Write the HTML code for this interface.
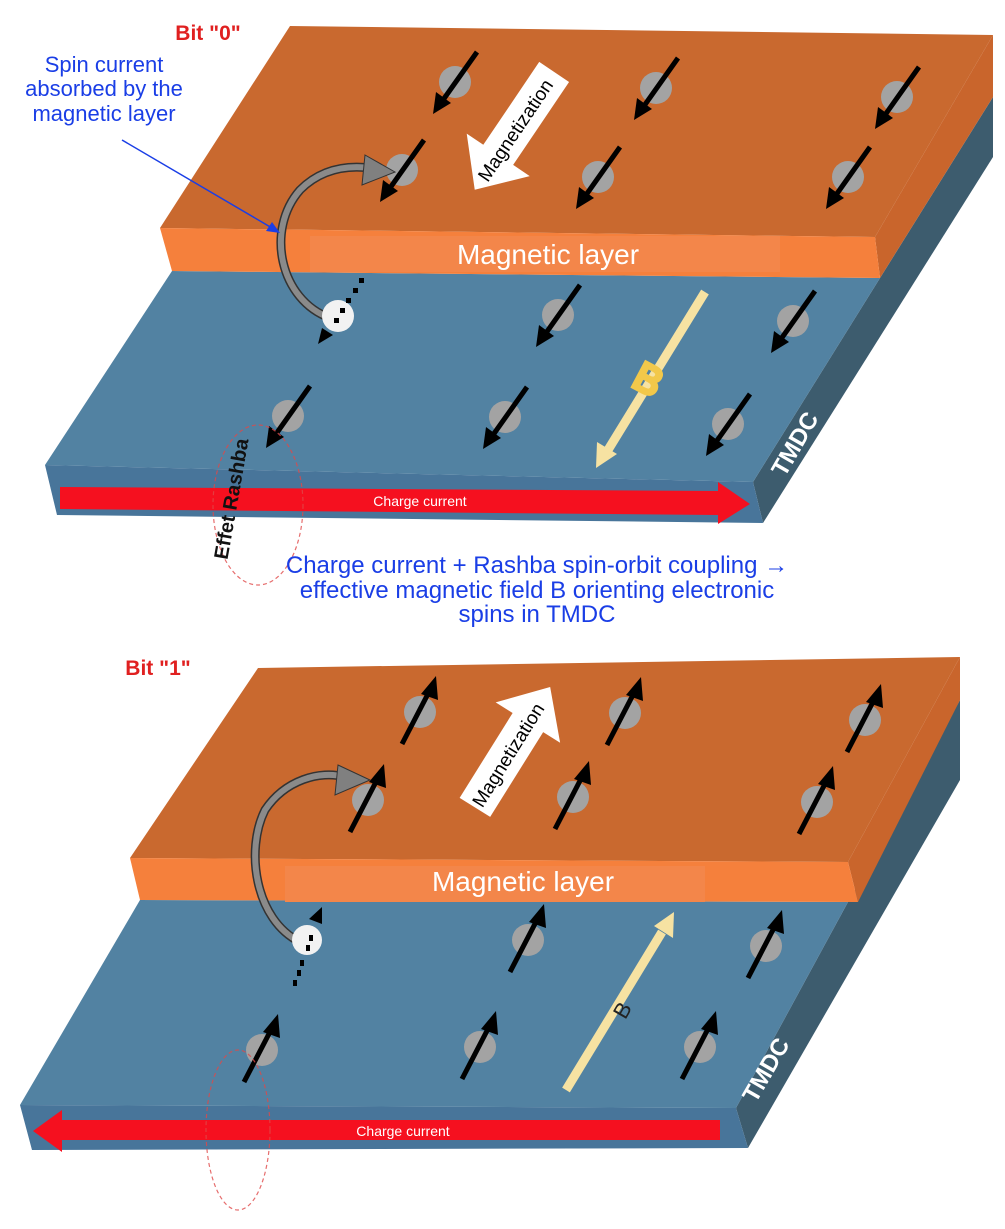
<!DOCTYPE html>
<html><head><meta charset="utf-8"><style>
html,body{margin:0;padding:0;background:#fff;}
svg{display:block;}
text{font-family:"Liberation Sans",sans-serif;}
</style></head><body>
<svg width="1005" height="1229" viewBox="0 0 1005 1229" xmlns="http://www.w3.org/2000/svg">
<defs>
<g id="sd">
<circle cx="0" cy="0" r="16" fill="#a3a3a3"/>
<line x1="22" y1="-30" x2="-12" y2="18" stroke="#000" stroke-width="5"/>
<polygon points="-22,32 -19,10 -4,21" fill="#000"/>
</g>
<g id="su">
<circle cx="0" cy="0" r="16" fill="#a3a3a3"/>
<line x1="-18" y1="32" x2="10" y2="-22" stroke="#000" stroke-width="5"/>
<polygon points="16,-36 1,-18 18,-12" fill="#000"/>
</g>
</defs>

<!-- ===== TOP DIAGRAM ===== -->
<polygon points="880,278 993,97 993,157 763,523 753,482" fill="#3d5c6e"/>
<polygon points="172,271 880,278 753,482 45,465" fill="#5282a2"/>
<polygon points="45,465 753,482 763,523 57,515" fill="#48759a"/>
<polygon points="875,237 993,35 993,97 880,278" fill="#c9652c"/>
<polygon points="290,26 993,35 875,237 160,228" fill="#c9692f"/>
<polygon points="160,228 875,237 880,278 172,271" fill="#f5803c"/>
<rect x="310" y="236" width="470" height="36" fill="#f3864a"/>
<text x="548" y="264" font-size="28" fill="#fff" text-anchor="middle">Magnetic layer</text>

<polygon points="60,487 718,491 718,482 750,504 718,524 718,515 60,509" fill="#f5101f"/>
<text x="420" y="506" font-size="14" fill="#fff" text-anchor="middle">Charge current</text>

<use href="#sd" x="455" y="82"/>
<use href="#sd" x="656" y="88"/>
<use href="#sd" x="897" y="97"/>
<use href="#sd" x="402" y="170"/>
<use href="#sd" x="598" y="177"/>
<use href="#sd" x="848" y="177"/>
<use href="#sd" x="558" y="315"/>
<use href="#sd" x="793" y="321"/>
<use href="#sd" x="288" y="416"/>
<use href="#sd" x="505" y="417"/>
<use href="#sd" x="728" y="424"/>

<g transform="translate(515,130) rotate(-56)">
<polygon points="-70,-18 30,-18 30,-38 72,0 30,38 30,18 -70,18" fill="#fff" transform="rotate(180)"/>
<text x="0" y="7" font-size="19" fill="#000" text-anchor="middle">Magnetization</text>
</g>

<line x1="705" y1="292" x2="608" y2="450" stroke="#f6e2a2" stroke-width="9"/>
<polygon points="596,468 597,442 617,454" fill="#f6e2a2"/>
<text x="648" y="393" font-size="40" fill="none" stroke="#f2c84a" stroke-width="4" text-anchor="middle" transform="rotate(28 648 380)">B</text>

<path d="M330,318 C280,300 265,230 300,190 C320,170 345,165 370,168" fill="none" stroke="#333" stroke-width="9"/>
<path d="M330,318 C280,300 265,230 300,190 C320,170 345,165 370,168" fill="none" stroke="#8a8a8a" stroke-width="6"/>
<polygon points="365,155 395,172 362,185" fill="#808080" stroke="#333" stroke-width="1"/>
<circle cx="338" cy="316" r="16" fill="#f2f2f2"/>
<g fill="#000">
<rect x="359" y="278" width="5" height="5"/><rect x="353" y="288" width="5" height="5"/><rect x="346" y="298" width="5" height="5"/><rect x="340" y="308" width="5" height="5"/><rect x="334" y="318" width="5" height="5"/>
<polygon points="318,344 333,335 322,328"/>
</g>

<ellipse cx="258" cy="505" rx="45" ry="80" fill="none" stroke="#e04848" stroke-width="1.2" stroke-dasharray="4,3" opacity="0.8"/>
<text x="238" y="500" font-size="20" font-weight="bold" fill="#111" text-anchor="middle" transform="rotate(-80 238 500)">Effet Rashba</text>

<text font-size="22" fill="#1a3ee6" text-anchor="middle"><tspan x="104" y="72">Spin current</tspan><tspan x="104" y="96">absorbed by the</tspan><tspan x="104" y="121">magnetic layer</tspan></text>
<line x1="122" y1="140" x2="272" y2="228" stroke="#1a3ee6" stroke-width="1.5"/>
<polygon points="280,233 266,231 272,222" fill="#1a3ee6"/>
<text x="208" y="40" font-size="21" font-weight="bold" fill="#e02020" text-anchor="middle">Bit "0"</text>

<text x="795" y="452" font-size="24" font-weight="bold" fill="#fff" text-anchor="middle" transform="rotate(-60 795 444)">TMDC</text>

<text font-size="24" fill="#1a3ee6" text-anchor="middle"><tspan x="537" y="573">Charge current + Rashba spin-orbit coupling →</tspan><tspan x="537" y="598">effective magnetic field B orienting electronic</tspan><tspan x="537" y="622">spins in TMDC</tspan></text>

<!-- ===== BOTTOM DIAGRAM ===== -->
<polygon points="848,902 960,700 960,780 748,1148 736,1108" fill="#3d5c6e"/>
<polygon points="140,900 848,902 736,1108 20,1105" fill="#5282a2"/>
<polygon points="20,1105 736,1108 748,1148 32,1150" fill="#48759a"/>
<polygon points="848,862 960,657 960,700 858,902" fill="#c9652c"/>
<polygon points="258,668 960,657 848,862 130,858" fill="#c9692f"/>
<polygon points="130,858 848,862 858,902 140,900" fill="#f5803c"/>
<rect x="285" y="866" width="420" height="36" fill="#f3864a"/>
<text x="523" y="891" font-size="28" fill="#fff" text-anchor="middle">Magnetic layer</text>

<polygon points="720,1120 62,1120 62,1110 33,1131 62,1152 62,1140 720,1140" fill="#f5101f"/>
<text x="403" y="1136" font-size="14" fill="#fff" text-anchor="middle">Charge current</text>

<use href="#su" x="420" y="712"/>
<use href="#su" x="625" y="713"/>
<use href="#su" x="865" y="720"/>
<use href="#su" x="368" y="800"/>
<use href="#su" x="573" y="797"/>
<use href="#su" x="817" y="802"/>
<use href="#su" x="528" y="940"/>
<use href="#su" x="766" y="946"/>
<use href="#su" x="262" y="1050"/>
<use href="#su" x="480" y="1047"/>
<use href="#su" x="700" y="1047"/>

<g transform="translate(512,748) rotate(-58)">
<polygon points="-70,-18 30,-18 30,-38 72,0 30,38 30,18 -70,18" fill="#fff"/>
<text x="-8" y="7" font-size="19" fill="#000" text-anchor="middle">Magnetization</text>
</g>

<line x1="566" y1="1090" x2="662" y2="932" stroke="#f6e2a2" stroke-width="9"/>
<polygon points="674,912 673,938 654,926" fill="#f6e2a2"/>
<text x="622" y="1018" font-size="22" fill="#222" text-anchor="middle" transform="rotate(-60 622 1010)">B</text>

<path d="M300,942 C255,920 245,850 265,810 C285,780 320,770 345,777" fill="none" stroke="#333" stroke-width="9"/>
<path d="M300,942 C255,920 245,850 265,810 C285,780 320,770 345,777" fill="none" stroke="#8a8a8a" stroke-width="6"/>
<polygon points="338,765 370,780 335,795" fill="#808080" stroke="#333" stroke-width="1"/>
<circle cx="307" cy="940" r="15" fill="#f2f2f2"/>
<g fill="#000">
<rect x="309" y="935" width="4" height="6"/><rect x="306" y="945" width="4" height="6"/><rect x="300" y="960" width="4" height="6"/><rect x="297" y="970" width="4" height="6"/><rect x="293" y="980" width="4" height="6"/>
<polygon points="322,907 322,924 309,919"/>
</g>

<ellipse cx="238" cy="1130" rx="32" ry="80" fill="none" stroke="#e04848" stroke-width="1.2" stroke-dasharray="4,3" opacity="0.8"/>

<text x="158" y="675" font-size="21" font-weight="bold" fill="#e02020" text-anchor="middle">Bit "1"</text>
<text x="766" y="1078" font-size="24" font-weight="bold" fill="#fff" text-anchor="middle" transform="rotate(-60 766 1070)">TMDC</text>
</svg>
</body></html>
